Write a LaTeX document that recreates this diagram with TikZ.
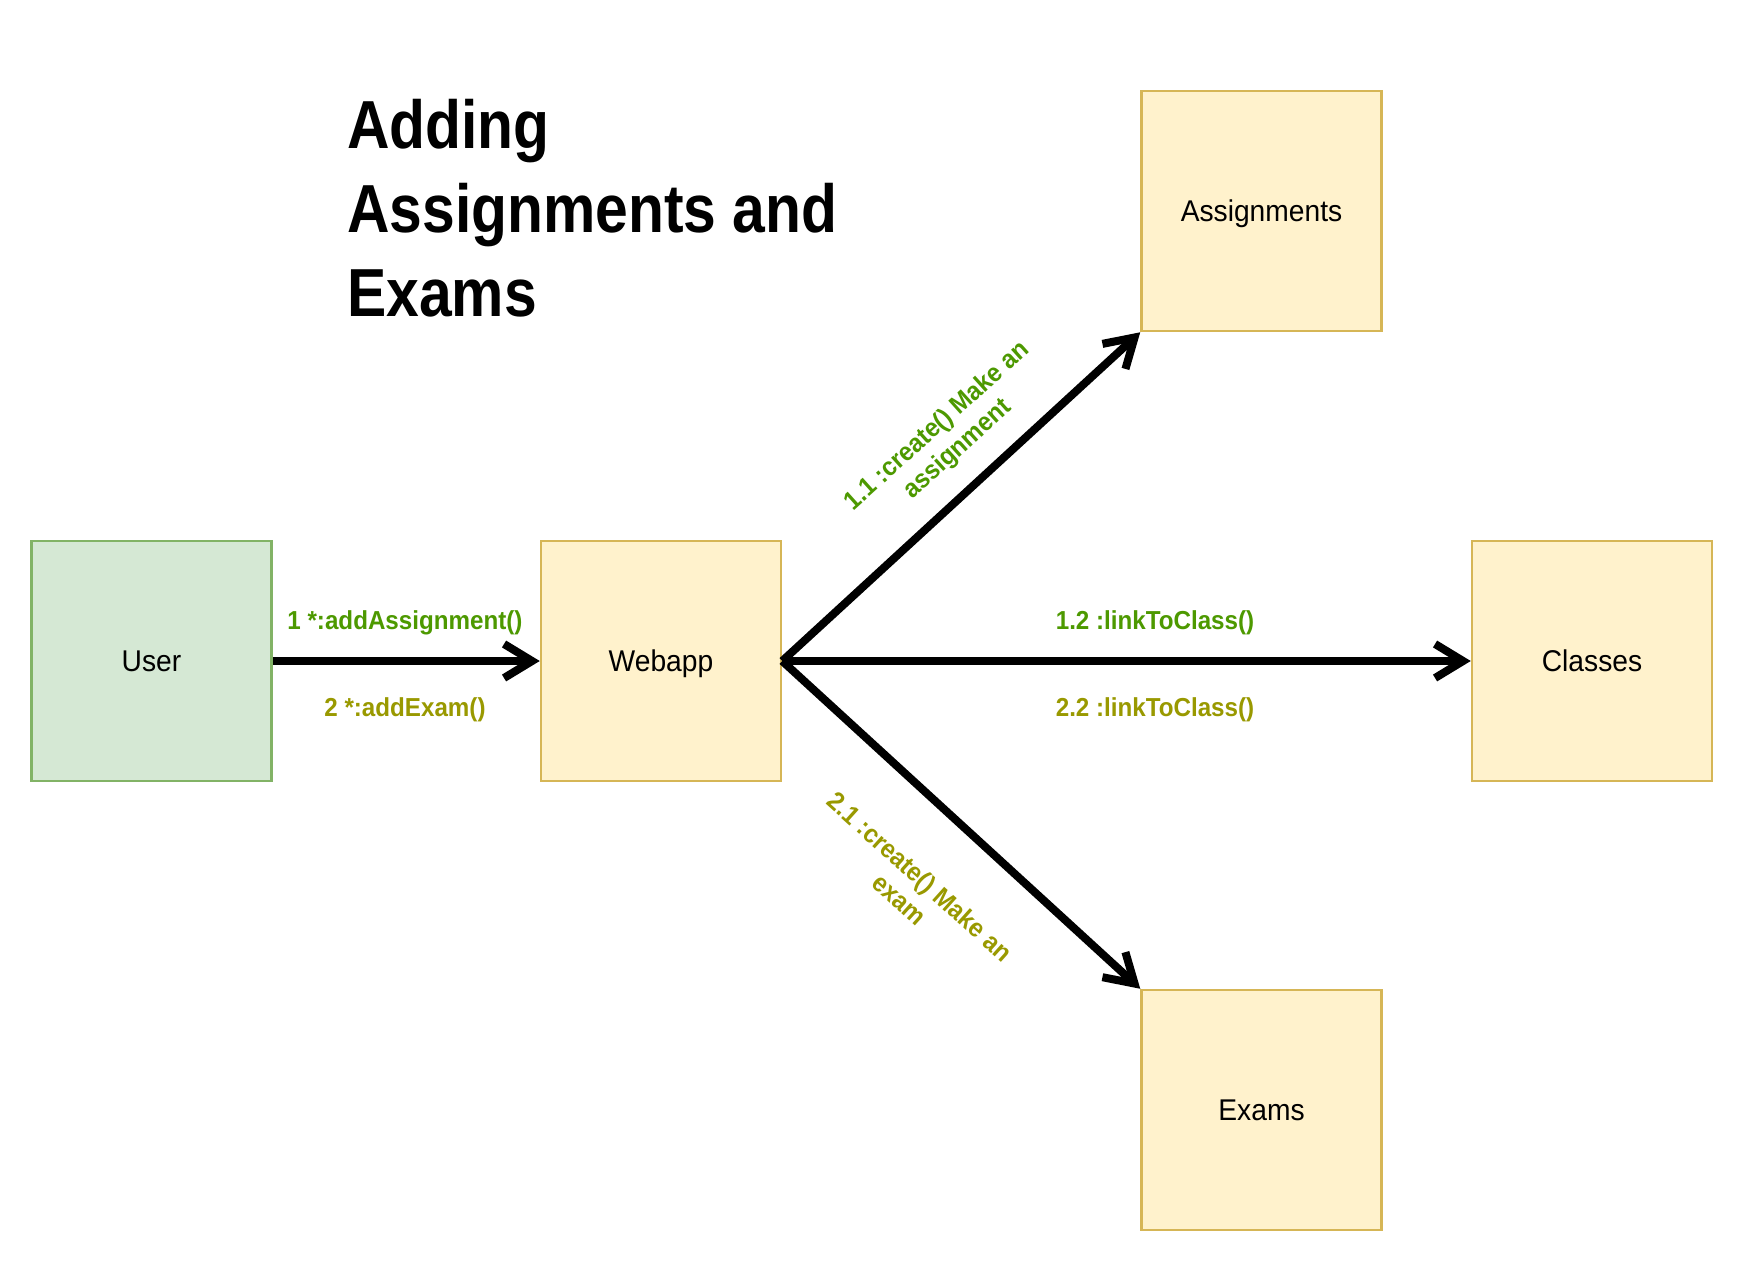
\documentclass[tikz,border=0pt]{standalone}
\usepackage{fontspec}
\setmainfont{Liberation Sans}
\newfontfamily\titlefont{Liberation Sans}[FakeStretch=0.865]
\newfontfamily\labelfont{Liberation Sans}[FakeStretch=0.93]
\newfontfamily\boxfont{Liberation Sans}[FakeStretch=0.94]
\usetikzlibrary{arrows.meta}
\definecolor{greenfill}{HTML}{D5E8D4}
\definecolor{greenstroke}{HTML}{82B366}
\definecolor{yellowfill}{HTML}{FFF2CC}
\definecolor{yellowstroke}{HTML}{D6B656}
\definecolor{lblgreen}{HTML}{4D9900}
\definecolor{lblolive}{HTML}{999900}
\begin{document}
\begin{tikzpicture}[x=1pt,y=-1pt,
  box/.style={draw=yellowstroke, fill=yellowfill, line width=2.5pt,
    minimum width=240pt, minimum height=240pt, inner sep=0pt,
    text height=21.5pt, text depth=0pt,
    font=\boxfont\fontsize{30}{34}\selectfont},
  userbox/.style={box, draw=greenstroke, fill=greenfill},
  conn/.style={line width=8pt, -{Straight Barb[length=28pt,width=34pt,sharp]}},
  lbl/.style={inner sep=0pt, font=\labelfont\bfseries\fontsize{26}{31}\selectfont},
  ttl/.style={inner sep=0pt, anchor=base west, font=\titlefont\bfseries\fontsize{68}{84}\selectfont}
]
\useasboundingbox (0,0) rectangle (1743,1263);
\fill[white] (0,0) rectangle (1743,1263);

\node[ttl] (t1) at (347,148) {Adding};
\node[ttl] (t2) at (347,232) {Assignments and};
\node[ttl] (t3) at (347,316) {Exams};

\node[userbox] (user) at (151.5,661) {User};
\node[box] (webapp) at (661,661) {Webapp};
\node[box] (assign) at (1261.5,211) {Assignments};
\node[box] (classes) at (1592,661) {Classes};
\node[box] (exams) at (1261.5,1110) {Exams};

\draw[conn] (user.east) -- (webapp.west);
\draw[conn] (webapp.east) -- (assign.south west);
\draw[conn] (webapp.east) -- (classes.west);
\draw[conn] (webapp.east) -- (exams.north west);

\node[lbl, text=lblgreen, anchor=base] (l1) at (405,629) {1 *:addAssignment()};
\node[lbl, text=lblolive, anchor=base] (l2) at (405,716) {2 *:addExam()};
\node[lbl, text=lblgreen, anchor=base] (l12) at (1155,629) {1.2 :linkToClass()};
\node[lbl, text=lblolive, anchor=base] (l22) at (1155,716) {2.2 :linkToClass()};
\node[lbl, text=lblgreen, rotate=42, align=center] (l11) at (948,438) {1.1 :create() Make an\\assignment};
\node[lbl, text=lblolive, rotate=-42, align=center] (l21) at (910,888) {2.1 :create() Make an\\exam};
\end{tikzpicture}
\end{document}
